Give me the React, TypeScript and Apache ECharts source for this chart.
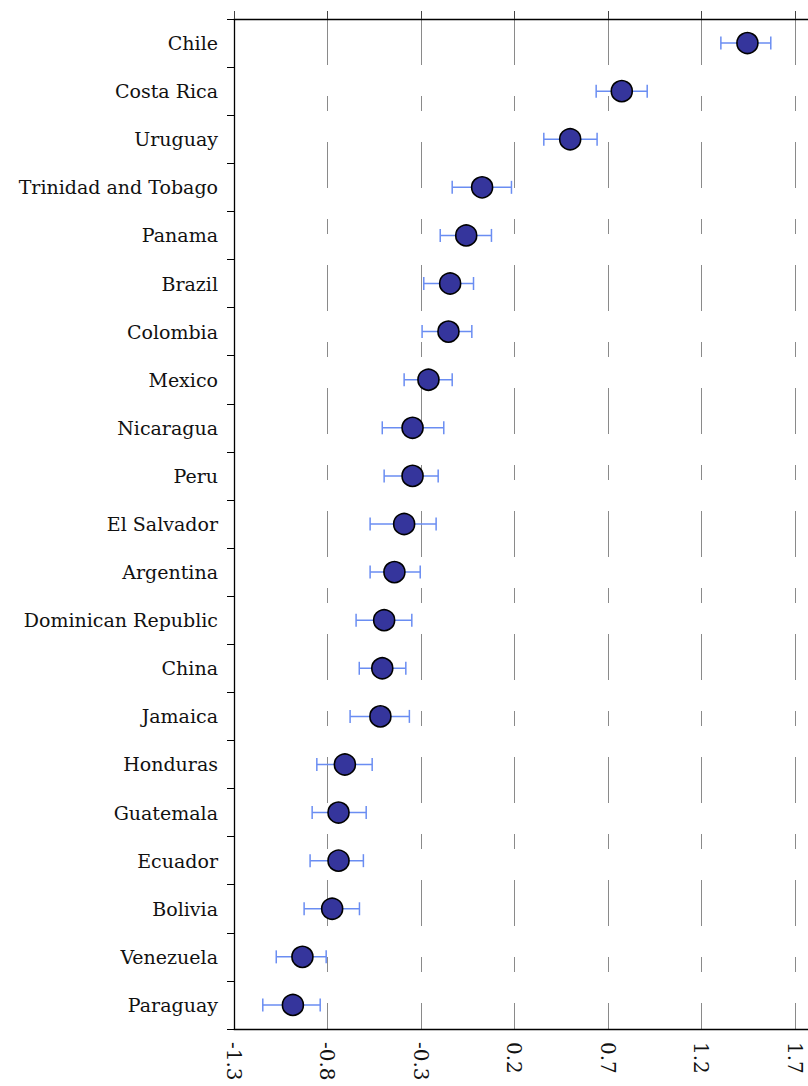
import React, { useEffect, useRef } from "react";
import * as echarts from "echarts";

// Countries, top to bottom
const countries = [
  "Chile",
  "Costa Rica",
  "Uruguay",
  "Trinidad and Tobago",
  "Panama",
  "Brazil",
  "Colombia",
  "Mexico",
  "Nicaragua",
  "Peru",
  "El Salvador",
  "Argentina",
  "Dominican Republic",
  "China",
  "Jamaica",
  "Honduras",
  "Guatemala",
  "Ecuador",
  "Bolivia",
  "Venezuela",
  "Paraguay",
];

// Point estimates
const estimates = [
  1.446, 0.774, 0.498, 0.027, -0.058, -0.144, -0.153, -0.26, -0.345, -0.345,
  -0.39, -0.442, -0.497, -0.507, -0.517, -0.707, -0.741, -0.741, -0.775,
  -0.934, -0.985,
];

// Interval bounds
const lower = [
  1.304, 0.637, 0.357, -0.133, -0.197, -0.285, -0.294, -0.39, -0.507, -0.497,
  -0.572, -0.572, -0.647, -0.63, -0.679, -0.857, -0.882, -0.893, -0.925,
  -1.074, -1.146,
];
const upper = [
  1.571, 0.91, 0.642, 0.184, 0.077, -0.019, -0.028, -0.133, -0.178, -0.208,
  -0.219, -0.304, -0.349, -0.381, -0.362, -0.561, -0.593, -0.608, -0.629,
  -0.807, -0.839,
];

// Value axis range
const axisMin = -1.3;
const axisMax = 1.77;
const axisStep = 0.5;

const FONT = "DejaVu Serif";

export default function App() {
  const ref = useRef<HTMLDivElement>(null);

  useEffect(() => {
    if (!ref.current) return;
    const chart = echarts.init(ref.current, null, { renderer: "svg" });

    const errData = countries.map((_, i) => [i, lower[i], upper[i]]);
    const pointData = countries.map((c, i) => [estimates[i], c]);

    const valueAxisBase = {
      type: "value" as const,
      min: axisMin,
      max: axisMax,
      interval: axisStep,
    };

    chart.setOption({
      animation: false,
      backgroundColor: "#ffffff",
      grid: {
        left: 234,
        right: 0,
        top: 19,
        bottom: 57,
        containLabel: false,
        outerBoundsMode: "none",
      },
      xAxis: [
        {
          ...valueAxisBase,
          position: "bottom",
          axisLine: {
            show: true,
            onZero: false,
            lineStyle: { color: "#000", width: 1.3 },
          },
          axisTick: { show: false },
          axisLabel: {
            rotate: -90,
            margin: 13,
            fontFamily: FONT,
            fontSize: 20,
            color: "#111",
            showMaxLabel: false,
            formatter: (v: number) => String(Math.round(v * 10) / 10),
          },
          splitLine: {
            show: true,
            lineStyle: { color: "#8a8a8a", width: 1, type: [46, 31, 15, 31] },
          },
        },
        {
          ...valueAxisBase,
          position: "top",
          axisLine: {
            show: true,
            onZero: false,
            lineStyle: { color: "#000", width: 1.3 },
          },
          axisTick: {
            show: true,
            inside: false,
            length: 8,
            lineStyle: { color: "#444", width: 1 },
          },
          axisLabel: { show: false },
          splitLine: { show: false },
        },
      ],
      yAxis: {
        type: "category",
        data: countries,
        inverse: true,
        boundaryGap: true,
        position: "left",
        axisLine: {
          show: true,
          onZero: false,
          lineStyle: { color: "#000", width: 1.3 },
        },
        axisTick: {
          show: true,
          length: 7,
          lineStyle: { color: "#000", width: 1 },
        },
        axisLabel: {
          margin: 16,
          fontFamily: FONT,
          fontSize: 19,
          color: "#111",
        },
        splitLine: { show: false },
      },
      series: [
        {
          type: "custom",
          name: "interval",
          xAxisIndex: 0,
          encode: { x: [1, 2], y: 0 },
          data: errData,
          z: 2,
          renderItem: (params: any, api: any) => {
            const idx = api.value(0);
            const a = api.coord([api.value(1), idx]);
            const b = api.coord([api.value(2), idx]);
            const cap = 6.5;
            const style = { stroke: "#6a8df2", lineWidth: 1.5 };
            return {
              type: "group",
              children: [
                {
                  type: "line",
                  shape: { x1: a[0], y1: a[1], x2: b[0], y2: b[1] },
                  style,
                },
                {
                  type: "line",
                  shape: { x1: a[0], y1: a[1] - cap, x2: a[0], y2: a[1] + cap },
                  style,
                },
                {
                  type: "line",
                  shape: { x1: b[0], y1: b[1] - cap, x2: b[0], y2: b[1] + cap },
                  style,
                },
              ],
            };
          },
        },
        {
          type: "scatter",
          name: "estimate",
          xAxisIndex: 0,
          data: pointData,
          symbol: "circle",
          symbolSize: 21,
          z: 3,
          itemStyle: {
            color: "#35359c",
            borderColor: "#000",
            borderWidth: 1.6,
            opacity: 1,
          },
        },
      ],
    });

    return () => chart.dispose();
  }, []);

  return (
    <div
      ref={ref}
      style={{
        position: "absolute",
        left: 0,
        top: 0,
        width: 808,
        height: 1086,
        background: "#fff",
      }}
    />
  );
}
